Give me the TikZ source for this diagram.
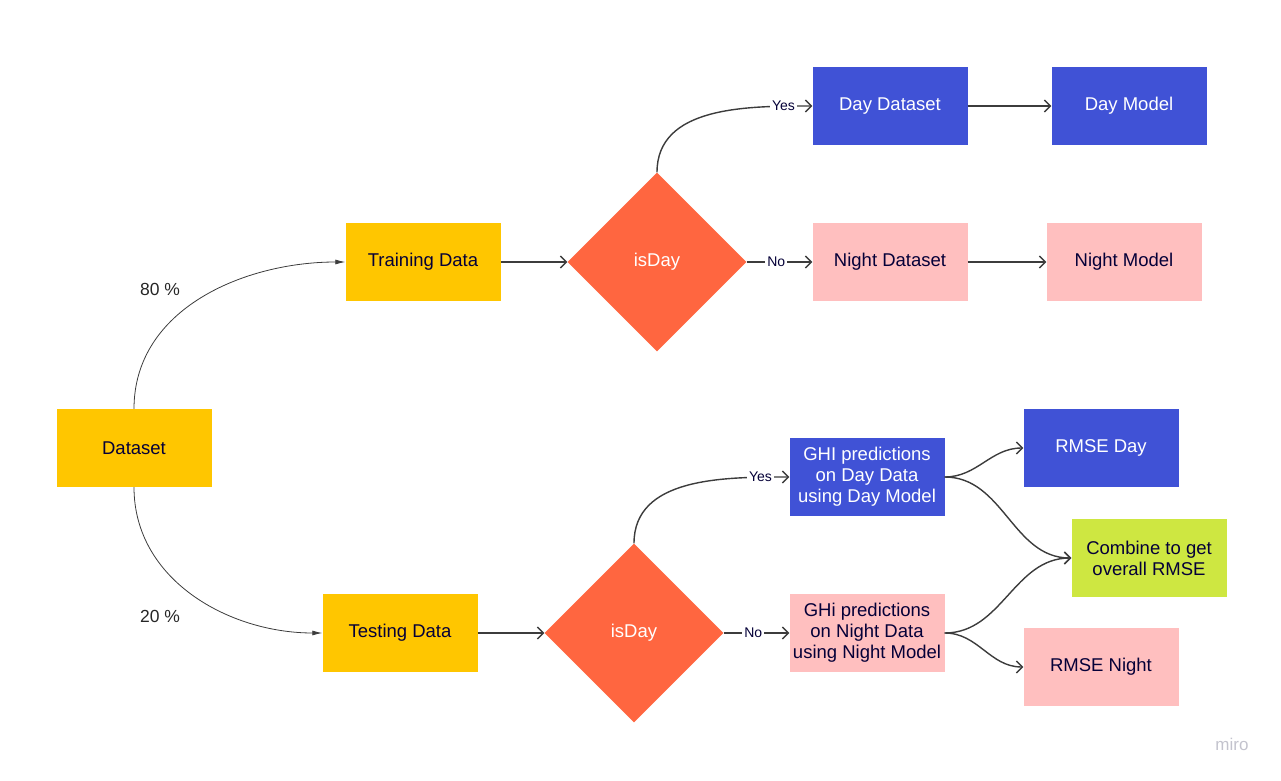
\documentclass[tikz,border=0pt]{standalone}
\usepackage{fontspec}
\setmainfont{Liberation Sans}
\usepackage{xcolor}
\usepackage{tikz}
\usetikzlibrary{arrows.meta, shapes.geometric, positioning, calc}
\definecolor{Amarillo}{RGB}{255,198,0}
\definecolor{Naranja} {RGB}{255,102,64}
\definecolor{Azul}    {RGB}{64, 82, 214}
\definecolor{Rosa}    {RGB}{255,191,191}
\definecolor{Lima}    {RGB}{206,231,65}
\definecolor{Tinta}   {RGB}{5,  0,  56}
\definecolor{Linea}   {RGB}{60, 60, 60}
\definecolor{Marca}   {RGB}{195,195,205}

\begin{document}
\begin{tikzpicture}[
      x=1pt, y=1pt,
      caja/.style ={rectangle,minimum width=155pt,minimum height=78pt,
                    inner sep=2pt,align=center,
                    font=\fontsize{18.5}{21}\selectfont},
      cajaa/.style={caja,fill=Amarillo,text=Tinta},
      cajab/.style={caja,fill=Azul,text=white},
      cajar/.style={caja,fill=Rosa,text=Tinta},
      cajav/.style={caja,fill=Lima,text=Tinta},
      rombo/.style={diamond,aspect=1,minimum size=179pt,inner sep=0pt,
                    fill=Naranja,text=white,font=\fontsize{18.5}{21}\selectfont},
      fl/.style   ={-{Straight Barb[length=6pt,width=12pt]},Linea,line width=1.4pt},
      fd/.style   ={-{Latex[length=10pt,width=5pt]},Linea,line width=0.8pt},
      lbl/.style  ={fill=white,inner sep=2pt,text=Tinta,
                    font=\fontsize{14}{16}\selectfont},
      pct/.style  ={text=black!85,font=\fontsize{17.5}{21}\selectfont}]
      \useasboundingbox (0,0) rectangle (1281,780);
      \node[cajaa] (data)   at (134, 332){Dataset};
      \node[cajaa] (train)  at (423, 518){Training Data};
      \node[cajaa] (test)   at (400, 147){Testing Data};
      \node[rombo] (dec1)   at (657, 518){isDay};
      \node[rombo] (dec2)   at (634, 147){isDay};
      \node[cajab] (dayds)  at (890, 674){Day Dataset};
      \node[cajab] (daymod) at (1129,674){Day Model};
      \node[cajar] (nigds)  at (890, 518){Night Dataset};
      \node[cajar] (nigmod) at (1124,518){Night Model};
      \node[cajab] (predd)  at (867, 303){GHI predictions\\on Day Data\\using Day Model};
      \node[cajar] (predn)  at (867, 147){GHi predictions\\on Night Data\\using Night Model};
      \node[cajab] (rmsed)  at (1101,332){RMSE Day};
      \node[cajav] (comb)   at (1149,222){Combine to get\\overall RMSE};
      \node[cajar] (rmsen)  at (1101,113){RMSE Night};
      \node[pct]   (p80)    at (160, 491){80 \%};
      \node[pct]   (p20)    at (160, 164){20 \%};
      \node[text=Marca,font=\fontsize{17}{19}\selectfont] (marca) at (1232,36){miro};
      \draw[fd] (data.north) to[out=90,in=180] (train.west);
      \draw[fd] (data.south) to[out=-90,in=180] (test.west);
      \foreach \a/\b in {train/dec1,test/dec2,dayds/daymod,nigds/nigmod}
        \draw[fl] (\a)--(\b);
      \draw[fl] (dec1.north) to[out=90,in=180] node[lbl,pos=0.86]{Yes} (dayds.west);
      \draw[fl] (dec2.north) to[out=90,in=180] node[lbl,pos=0.86]{Yes} (predd.west);
      \draw[fl] (dec1.east) -- node[lbl,pos=0.45]{No} (nigds.west);
      \draw[fl] (dec2.east) -- node[lbl,pos=0.45]{No} (predn.west);
      \foreach \a/\b in {predd/rmsed,predd/comb,predn/comb,predn/rmsen}
        \draw[fl] (\a.east) to[out=0,in=180] (\b.west);
    \end{tikzpicture}
\end{document}
